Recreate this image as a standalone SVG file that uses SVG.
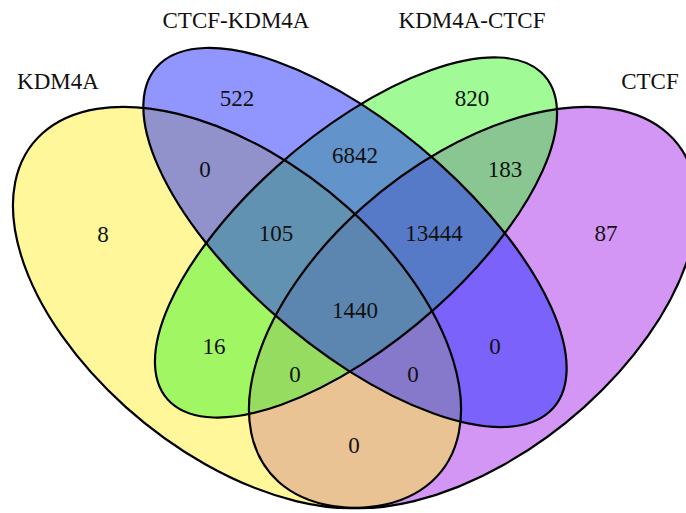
<svg xmlns="http://www.w3.org/2000/svg" width="686" height="513" viewBox="0 0 686 513">
<defs>
<style>
.fill{stroke:none;fill-opacity:0.5}
.outline{fill:none;stroke:#000;stroke-width:2.2}
text{font-family:"Liberation Serif","Times New Roman",serif;font-size:23px;fill:#111;text-anchor:middle}
</style>
<ellipse id="shapeY" rx="0.35" ry="0.2" transform="translate(237,307.5) scale(786,704) rotate(45)"/>
<ellipse id="shapeB" rx="0.35" ry="0.15" transform="translate(355,237.5) scale(786,704) rotate(45)"/>
<ellipse id="shapeG" rx="0.3325" ry="0.1425" transform="translate(356,237.5) scale(786,704) rotate(-45)"/>
<ellipse id="shapeP" rx="0.35" ry="0.2" transform="translate(473,307.5) scale(786,704) rotate(-45)"/>
</defs>
<rect width="686" height="513" fill="#fff"/>
<g id="CTCF">
<use href="#shapeP" class="fill" fill="#A72DEB"/>
<text x="650" y="89">CTCF</text>
</g>
<g id="KDM4A">
<use href="#shapeY" class="fill" fill="#FFEF33"/>
<text x="58" y="89">KDM4A</text>
</g>
<g id="KDM4A-CTCF">
<use href="#shapeG" class="fill" fill="#41F52D"/>
<text x="472" y="28">KDM4A-CTCF</text>
</g>
<g id="CTCF-KDM4A">
<use href="#shapeB" class="fill" fill="#232DFF"/>
<text x="236" y="28">CTCF-KDM4A</text>
</g>
<g id="outlines">
<ellipse class="outline" vector-effect="non-scaling-stroke" rx="0.35" ry="0.2" transform="translate(473,307.5) scale(786,704) rotate(-45)"/>
<ellipse class="outline" vector-effect="non-scaling-stroke" rx="0.35" ry="0.2" transform="translate(237,307.5) scale(786,704) rotate(45)"/>
<ellipse class="outline" vector-effect="non-scaling-stroke" rx="0.3325" ry="0.1425" transform="translate(356,237.5) scale(786,704) rotate(-45)"/>
<ellipse class="outline" vector-effect="non-scaling-stroke" rx="0.35" ry="0.15" transform="translate(355,237.5) scale(786,704) rotate(45)"/>
</g>
<g id="counts">
<text x="237" y="106">522</text>
<text x="472" y="106">820</text>
<text x="205" y="177">0</text>
<text x="355" y="163">6842</text>
<text x="505" y="177">183</text>
<text x="103" y="242">8</text>
<text x="276" y="241">105</text>
<text x="434" y="241">13444</text>
<text x="606" y="241">87</text>
<text x="355" y="318">1440</text>
<text x="214" y="354">16</text>
<text x="495" y="354">0</text>
<text x="295" y="382">0</text>
<text x="413" y="382">0</text>
<text x="354" y="453">0</text>
</g>
</svg>
